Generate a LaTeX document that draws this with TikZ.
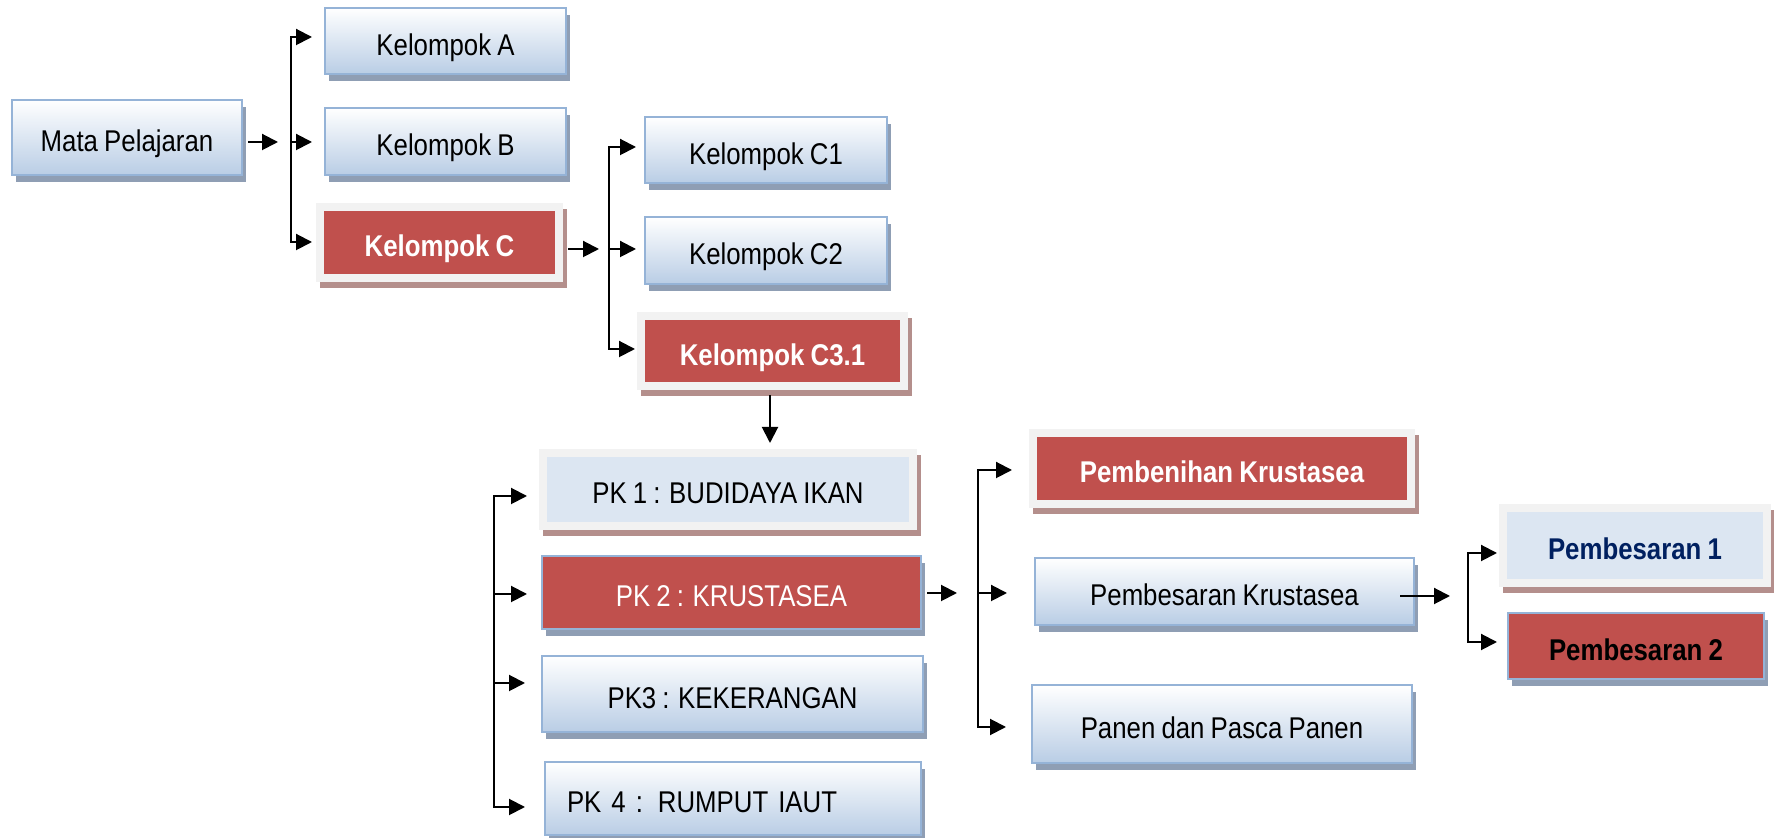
\documentclass[tikz,border=0pt]{standalone}
\usepackage{fontspec}
\newfontfamily\nf[FakeStretch=0.86,WordSpace=0.86]{Liberation Sans}
\usetikzlibrary{arrows.meta}
\definecolor{bluebd}{RGB}{149,179,215}
\definecolor{bluebot}{RGB}{185,205,229}
\definecolor{bshadow}{RGB}{143,158,180}
\definecolor{redfill}{RGB}{192,80,77}
\definecolor{framecol}{RGB}{242,242,242}
\definecolor{rshadow}{RGB}{180,143,140}
\definecolor{lightbl}{RGB}{220,230,242}
\definecolor{navy}{RGB}{0,32,96}
\newcommand\myfs{\fontsize{15pt}{18pt}\selectfont}
\begin{document}
\begin{tikzpicture}[x=0.5pt,y=-0.5pt,
  every node/.style={inner sep=0pt, outer sep=0pt, font=\nf\myfs, text height=14.2pt, text depth=0pt},
  sz/.style 2 args={minimum width=#1*0.5pt, minimum height=#2*0.5pt},
  bshad/.style={preaction={fill=bshadow, transform canvas={shift={(4,7)}}}},
  rshad/.style={preaction={fill=rshadow, draw=rshadow, line width=4pt, transform canvas={shift={(4,6)}}}},
  bluebox/.style={bshad, draw=bluebd, line width=1pt, top color=white, bottom color=bluebot, text=black},
  redblue/.style={bshad, draw=bluebd, line width=1pt, fill=redfill},
  framedred/.style={rshad, draw=framecol, line width=4pt, fill=redfill, text=white, font=\nf\bfseries\myfs},
  framedlb/.style={rshad, draw=framecol, line width=4pt, fill=lightbl},
  ln/.style={line width=1pt, black, line cap=rect},
  arr/.style={line width=1pt, black, -{Triangle[length=8pt,width=8pt]}}
]
\useasboundingbox (0,0) rectangle (1774,838);

% nodes
\node[bluebox, sz={230}{75}] (mp) at (127,137.5) {Mata Pelajaran};
\node[bluebox, sz={241}{66}] (ka) at (445.5,41) {Kelompok A};
\node[bluebox, sz={241}{67}] (kb) at (445.5,141.5) {Kelompok B};
\node[framedred, sz={239}{71}] (kc) at (439.5,242.5) {Kelompok C};
\node[bluebox, sz={242}{66}] (c1) at (766,150) {Kelompok C1};
\node[bluebox, sz={242}{67}] (c2) at (766,250.5) {Kelompok C2};
\node[framedred, sz={263}{70}] (c31) at (772.5,351) {Kelompok C3.1};
\node[framedlb, sz={370}{73}, text=black] (pk1) at (728,489.5) {PK 1 : BUDIDAYA IKAN};
\node[redblue, sz={379}{73}, text=white] (pk2) at (731.5,592.5) {PK 2 : KRUSTASEA};
\node[bluebox, sz={381}{76}] (pk3) at (732.5,694) {PK3 : KEKERANGAN};
\node[bluebox, sz={376}{73}, text width=332*0.5pt, align=left] (pk4) at (733,798.5) {PK 4 : RUMPUT IAUT};
\node[framedred, sz={378}{71}] (pben) at (1222,468.5) {Pembenihan Krustasea};
\node[bluebox, sz={379}{67}] (pbk) at (1224.5,591.5) {Pembesaran Krustasea};
\node[bluebox, sz={380}{78}] (ppp) at (1222,724) {Panen dan Pasca Panen};
\node[framedlb, sz={264}{75}, text=navy, font=\nf\bfseries\myfs] (pb1) at (1635,545.5) {Pembesaran 1};
\node[redblue, sz={256}{66}, text=black, font=\nf\bfseries\myfs] (pb2) at (1636,646) {Pembesaran 2};

% level 1
\coordinate (j1) at (278,142);
\draw[arr, shorten <=3pt] (mp.east |- j1) -- (j1);
\coordinate (b1a) at (291,37);
\coordinate (b1b) at (291,142);
\coordinate (b1c) at (291,242);
\draw[ln] (b1a) -- (b1c);
\draw[arr, shorten >=6.5pt] (b1a) -- (b1a -| ka.west);
\draw[arr, shorten >=6.5pt] (b1b) -- (b1b -| kb.west);
\draw[arr, shorten >=4pt] (b1c) -- (b1c -| kc.west);

% level 2
\coordinate (j2) at (599,249);
\draw[arr, shorten <=4.5pt] (kc.east |- j2) -- (j2);
\coordinate (b2a) at (609,147);
\coordinate (b2b) at (609,249);
\coordinate (b2c) at (609,349);
\draw[ln] (b2a) -- (b2c);
\draw[arr, shorten >=4.5pt] (b2a) -- (b2a -| c1.west);
\draw[arr, shorten >=4.5pt] (b2b) -- (b2b -| c2.west);
\draw[arr, shorten >=3pt] (b2c) -- (b2c -| c31.west);

% down
\coordinate (j3) at (770,443);
\draw[arr, shorten <=4.5pt] (c31.south -| j3) -- (j3);

% level 3
\coordinate (b3a) at (494,496);
\coordinate (b3b) at (494,594);
\coordinate (b3c) at (494,683);
\coordinate (b3d) at (494,807);
\draw[ln] (b3a) -- (b3d);
\draw[arr, shorten >=8pt] (b3a) -- (b3a -| pk1.west);
\draw[arr, shorten >=7.5pt] (b3b) -- (b3b -| pk2.west);
\draw[arr, shorten >=8.5pt] (b3c) -- (b3c -| pk3.west);
\draw[arr, shorten >=10pt] (b3d) -- (b3d -| pk4.west);

% level 4
\coordinate (j4) at (957,593);
\draw[arr, shorten <=3pt] (pk2.east |- j4) -- (j4);
\coordinate (b4a) at (978,470);
\coordinate (b4b) at (978,593);
\coordinate (b4c) at (978,727);
\draw[ln] (b4a) -- (b4c);
\draw[arr, shorten >=10.5pt] (b4a) -- (b4a -| pben.west);
\draw[arr, shorten >=14pt] (b4b) -- (b4b -| pbk.west);
\draw[arr, shorten >=13pt] (b4c) -- (b4c -| ppp.west);

% level 5
\coordinate (pbkout) at ([xshift=-7pt]pbk.east);
\coordinate (j5) at (1450,596);
\draw[arr] (pbkout |- j5) -- (j5);
\coordinate (b5a) at (1468,553);
\coordinate (b5b) at (1468,642);
\draw[ln] (b5a) -- (b5b);
\draw[arr, shorten >=3pt] (b5a) -- (b5a -| pb1.west);
\draw[arr, shorten >=5.5pt] (b5b) -- (b5b -| pb2.west);
\end{tikzpicture}
\end{document}
